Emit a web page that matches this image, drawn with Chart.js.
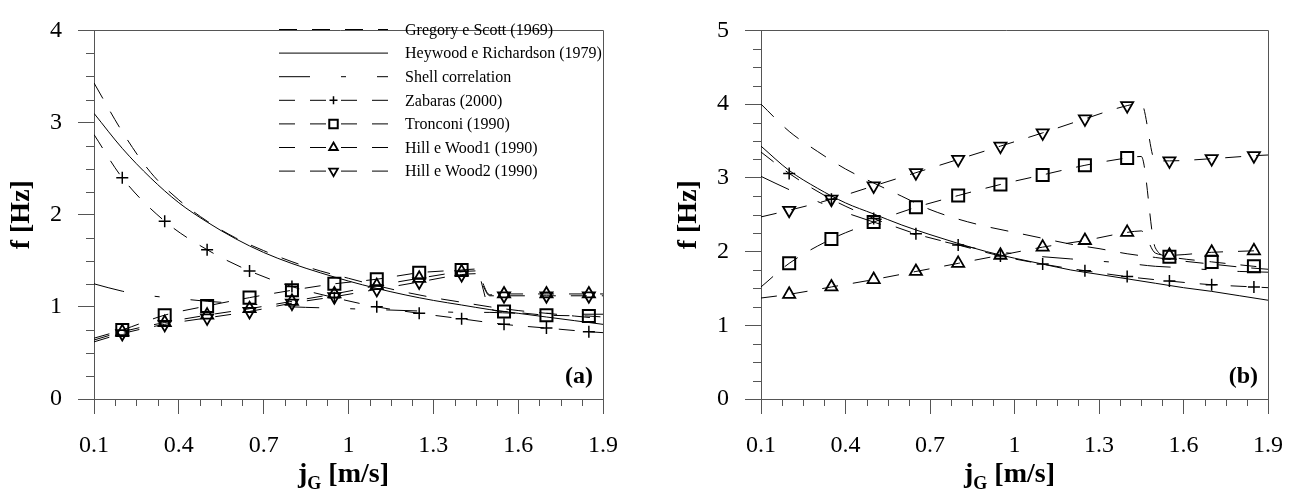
<!DOCTYPE html>
<html>
<head>
<meta charset="utf-8">
<script src="https://cdn.jsdelivr.net/npm/chart.js@4.4.0/dist/chart.umd.min.js"></script>
<style>
  html, body { margin: 0; padding: 0; background: #fff; }
  #wrap { position: relative; width: 1300px; height: 501px; }
  canvas { position: absolute; top: 0; }
</style>
</head>
<body>
<div id="wrap">
  <canvas id="chartA" width="650" height="501" style="left:0"></canvas>
  <canvas id="chartB" width="650" height="501" style="left:650px"></canvas>
</div>
<script>
// x positions used by the series
const curveX = [0.1, 0.2, 0.3, 0.4, 0.5, 0.6, 0.7, 0.8, 0.9, 1.0, 1.1, 1.2, 1.3, 1.4, 1.5, 1.6, 1.7, 1.8, 1.9];
const markerX = [0.2, 0.35, 0.5, 0.65, 0.8, 0.95, 1.1, 1.25, 1.4, 1.55, 1.7, 1.85];
const zabarasX = [0.1, 0.2, 0.35, 0.5, 0.65, 0.8, 0.95, 1.1, 1.25, 1.4, 1.55, 1.7, 1.85, 1.9];
const jumpX = [0.1, 0.2, 0.35, 0.5, 0.65, 0.8, 0.95, 1.1, 1.25, 1.4, 1.45, 1.5, 1.55, 1.7, 1.85, 1.9];

const xTicks = [0.1, 0.4, 0.7, 1.0, 1.3, 1.6, 1.9];
const xTickLabels = ['0.1', '0.4', '0.7', '1', '1.3', '1.6', '1.9'];
const yTicksA = [0, 1, 2, 3, 4];
const yTicksB = [0, 1, 2, 3, 4, 5];

const seriesNames = [
  'Gregory e Scott (1969)',
  'Heywood e Richardson (1979)',
  'Shell correlation',
  'Zabaras (2000)',
  'Tronconi (1990)',
  'Hill e Wood1 (1990)',
  'Hill e Wood2 (1990)',
];

// panel (a)
const gregoryA = [3.43, 2.90, 2.46, 2.16, 1.93, 1.75, 1.61, 1.49, 1.39, 1.31, 1.23, 1.16, 1.10, 1.05, 1.00, 0.96, 0.93, 0.90, 0.87];
const heywoodA = [3.10, 2.72, 2.40, 2.13, 1.92, 1.74, 1.59, 1.47, 1.37, 1.28, 1.20, 1.13, 1.07, 1.02, 0.97, 0.93, 0.89, 0.85, 0.81];
const shellA = [1.25, 1.17, 1.12, 1.09, 1.06, 1.04, 1.02, 1.00, 0.99, 0.98, 0.97, 0.96, 0.95, 0.94, 0.94, 0.93, 0.93, 0.92, 0.92];
const zabarasA = [2.87, 2.40, 1.93, 1.62, 1.39, 1.22, 1.10, 1.00, 0.93, 0.87, 0.81, 0.77, 0.73, 0.72];
const tronconiA = [0.66, 0.75, 0.91, 1.01, 1.10, 1.18, 1.25, 1.30, 1.37, 1.40, 1.41, 0.98, 0.95, 0.91, 0.90, 0.89];
const hillWood1A = [0.64, 0.73, 0.83, 0.91, 0.98, 1.06, 1.14, 1.23, 1.31, 1.38, 1.39, 1.13, 1.14, 1.14, 1.14, 1.14];
const hillWood2A = [0.62, 0.71, 0.81, 0.88, 0.95, 1.04, 1.11, 1.19, 1.27, 1.35, 1.36, 1.12, 1.12, 1.12, 1.12, 1.12];

// panel (b)
const gregoryB = [4.00, 3.63, 3.36, 3.12, 2.93, 2.75, 2.57, 2.44, 2.34, 2.26, 2.18, 2.10, 2.04, 1.97, 1.92, 1.87, 1.83, 1.79, 1.76];
const heywoodB = [3.43, 3.10, 2.86, 2.66, 2.51, 2.36, 2.23, 2.11, 2.00, 1.91, 1.83, 1.75, 1.69, 1.63, 1.57, 1.51, 1.46, 1.40, 1.34];
const shellB = [3.02, 2.84, 2.68, 2.53, 2.40, 2.28, 2.18, 2.09, 2.02, 1.97, 1.93, 1.90, 1.87, 1.84, 1.80, 1.78, 1.75, 1.73, 1.72];
const zabarasB = [3.35, 3.06, 2.71, 2.45, 2.24, 2.09, 1.94, 1.83, 1.74, 1.66, 1.60, 1.55, 1.52, 1.51];
const tronconiB = [1.52, 1.84, 2.17, 2.40, 2.60, 2.76, 2.91, 3.04, 3.17, 3.27, 3.29, 2.05, 1.93, 1.86, 1.80, 1.78];
const hillWood1B = [1.37, 1.42, 1.52, 1.62, 1.73, 1.84, 1.95, 2.06, 2.15, 2.26, 2.28, 1.98, 1.95, 1.99, 2.01, 2.02];
const hillWood2B = [2.47, 2.56, 2.71, 2.89, 3.07, 3.25, 3.43, 3.61, 3.80, 3.98, 4.01, 3.23, 3.23, 3.26, 3.30, 3.31];

const SERIF = '"Liberation Serif", "Times New Roman", serif';
const AXIS_COLOR = '#555';

// line / marker look of each series, same order as seriesNames
const looks = [
  { dash: [18, 15] },
  { dash: [] },
  { dash: [31, 31, 5, 31] },
  { dash: [16, 15], marker: 'cross', r: 6, lr: 4, bw: 1.5 },
  { dash: [16, 15], marker: 'rect', r: 8.5, lr: 6, bw: 2 },
  { dash: [16, 15], marker: 'triangle', rot: 0, r: 7, lr: 5, bw: 1.8 },
  { dash: [16, 15], marker: 'triangle', rot: 180, r: 7, lr: 5, bw: 1.8 },
];

const pts = (xs, ys) => xs.map((x, i) => ({ x, y: ys[i] }));
const isMarker = (x) => markerX.some((m) => Math.abs(m - x) < 1e-6);

function buildDatasets(xsList, ysList) {
  return ysList.map((ys, i) => {
    const look = looks[i];
    return {
      label: seriesNames[i],
      data: pts(xsList[i], ys),
      showLine: true,
      borderColor: '#000',
      borderWidth: 1,
      borderDash: look.dash,
      tension: 0.4,
      cubicInterpolationMode: 'monotone',
      pointStyle: look.marker || 'circle',
      pointRotation: look.rot || 0,
      pointRadius: (ctx) => (look.marker && ctx.raw && isMarker(ctx.raw.x) ? look.r : 0),
      pointHoverRadius: (ctx) => (look.marker && ctx.raw && isMarker(ctx.raw.x) ? look.r : 0),
      pointBorderColor: '#000',
      pointBackgroundColor: 'rgba(0,0,0,0)',
      pointBorderWidth: look.bw || 1,
      look,
    };
  });
}

// top/right frame, minor ticks, axis titles, panel letter
const framePlugin = {
  id: 'frame',
  afterDraw(chart, args, opts) {
    const { ctx, chartArea: a, scales: { x, y } } = chart;
    ctx.save();
    ctx.strokeStyle = AXIS_COLOR;
    ctx.lineWidth = 1;
    ctx.setLineDash([]);
    ctx.beginPath();
    ctx.moveTo(a.left - 16, Math.round(a.top) + 0.5);
    ctx.lineTo(Math.round(a.right) + 0.5, Math.round(a.top) + 0.5);
    ctx.lineTo(Math.round(a.right) + 0.5, a.bottom + 15);
    // minor ticks on x: every 0.075
    for (let i = 1; i < 24; i += 1) {
      if (i % 4 !== 0) {
        const px = Math.round(x.getPixelForValue(0.1 + i * 0.075)) + 0.5;
        ctx.moveTo(px, a.bottom);
        ctx.lineTo(px, a.bottom + 7);
      }
    }
    // minor ticks on y: every 0.25
    for (let i = 1; i < opts.yMax * 4; i += 1) {
      if (i % 4 !== 0) {
        const py = Math.round(y.getPixelForValue(i * 0.25)) + 0.5;
        ctx.moveTo(a.left, py);
        ctx.lineTo(a.left - 8, py);
      }
    }
    ctx.stroke();

    ctx.fillStyle = '#000';
    // y title
    ctx.save();
    ctx.translate(a.left - 72, (a.top + a.bottom) / 2);
    ctx.rotate(-Math.PI / 2);
    ctx.font = `bold 28px ${SERIF}`;
    ctx.textAlign = 'center';
    ctx.textBaseline = 'middle';
    ctx.fillText('f [Hz]', 0, 0);
    ctx.restore();

    // x title with subscript G
    const big = `bold 28px ${SERIF}`;
    const small = `bold 18px ${SERIF}`;
    ctx.textBaseline = 'alphabetic';
    ctx.textAlign = 'left';
    ctx.font = big;
    const wj = ctx.measureText('j').width;
    const wRest = ctx.measureText(' [m/s]').width;
    ctx.font = small;
    const wG = ctx.measureText('G').width;
    let tx = (a.left + a.right) / 2 - 5 - (wj + wG + wRest) / 2;
    const ty = 482;
    ctx.font = big;
    ctx.fillText('j', tx, ty);
    tx += wj;
    ctx.font = small;
    ctx.fillText('G', tx, ty + 7);
    tx += wG;
    ctx.font = big;
    ctx.fillText(' [m/s]', tx, ty);

    // panel letter
    ctx.font = `bold 24px ${SERIF}`;
    ctx.textAlign = 'right';
    ctx.fillText(opts.letter, a.right - 10, a.bottom - 16);
    ctx.restore();
  },
};

// legend with dashed samples and centred markers
const seriesLegendPlugin = {
  id: 'seriesLegend',
  afterDraw(chart, args, opts) {
    if (!opts.show) return;
    const { ctx } = chart;
    const x0 = 279;
    const x1 = 388;
    const tx = 405;
    ctx.save();
    chart.data.datasets.forEach((ds, i) => {
      const yy = 29.5 + i * 23.6;
      ctx.strokeStyle = '#000';
      ctx.lineWidth = 1;
      ctx.setLineDash(ds.look.dash);
      ctx.beginPath();
      ctx.moveTo(x0, yy);
      ctx.lineTo(x1, yy);
      ctx.stroke();
      ctx.setLineDash([]);
      if (ds.look.marker) {
        ctx.lineWidth = ds.look.bw;
        ctx.fillStyle = 'rgba(0,0,0,0)';
        Chart.helpers.drawPoint(ctx, {
          pointStyle: ds.look.marker,
          radius: ds.look.lr,
          rotation: ds.look.rot || 0,
          borderWidth: ds.look.bw,
        }, (x0 + x1) / 2, yy);
      }
      ctx.fillStyle = '#000';
      ctx.font = `16px ${SERIF}`;
      ctx.textAlign = 'left';
      ctx.textBaseline = 'middle';
      ctx.fillText(ds.label, tx, yy + 1);
    });
    ctx.restore();
  },
};

function makeChart(id, datasets, yTicks, axisWidth, padRight, letter, showLegend) {
  const yMax = yTicks[yTicks.length - 1];
  const tickFont = { family: SERIF, size: 24 };
  return new Chart(document.getElementById(id), {
    type: 'scatter',
    data: { datasets },
    options: {
      responsive: false,
      animation: false,
      devicePixelRatio: 1,
      layout: { padding: { left: 0, right: padRight, top: 17, bottom: 0 } },
      plugins: {
        legend: { display: false },
        tooltip: { enabled: false },
        frame: { letter, yMax },
        seriesLegend: { show: showLegend },
      },
      scales: {
        x: {
          type: 'linear',
          min: 0.1,
          max: 1.9,
          afterBuildTicks: (s) => { s.ticks = xTicks.map((v) => ({ value: v })); },
          afterFit: (s) => { s.height = 102; },
          grid: { drawOnChartArea: false, drawTicks: true, tickLength: 15, color: AXIS_COLOR },
          border: { color: AXIS_COLOR },
          ticks: {
            font: tickFont,
            color: '#000',
            padding: 17,
            maxRotation: 0,
            autoSkip: false,
            callback: (v, i) => xTickLabels[i],
          },
        },
        y: {
          type: 'linear',
          min: 0,
          max: yMax,
          afterBuildTicks: (s) => { s.ticks = yTicks.map((v) => ({ value: v })); },
          afterFit: (s) => { s.width = axisWidth; },
          grid: { drawOnChartArea: false, drawTicks: true, tickLength: 16, color: AXIS_COLOR },
          border: { color: AXIS_COLOR },
          ticks: {
            font: tickFont,
            color: '#000',
            padding: 16,
            autoSkip: false,
            callback: (v) => String(v),
          },
        },
      },
    },
    plugins: [framePlugin, seriesLegendPlugin],
  });
}

const xsList = [curveX, curveX, curveX, zabarasX, jumpX, jumpX, jumpX];

makeChart('chartA',
  buildDatasets(xsList, [gregoryA, heywoodA, shellA, zabarasA, tronconiA, hillWood1A, hillWood2A]),
  yTicksA, 94, 47, '(a)', true);

makeChart('chartB',
  buildDatasets(xsList, [gregoryB, heywoodB, shellB, zabarasB, tronconiB, hillWood1B, hillWood2B]),
  yTicksB, 111, 31, '(b)', false);
</script>
</body>
</html>
